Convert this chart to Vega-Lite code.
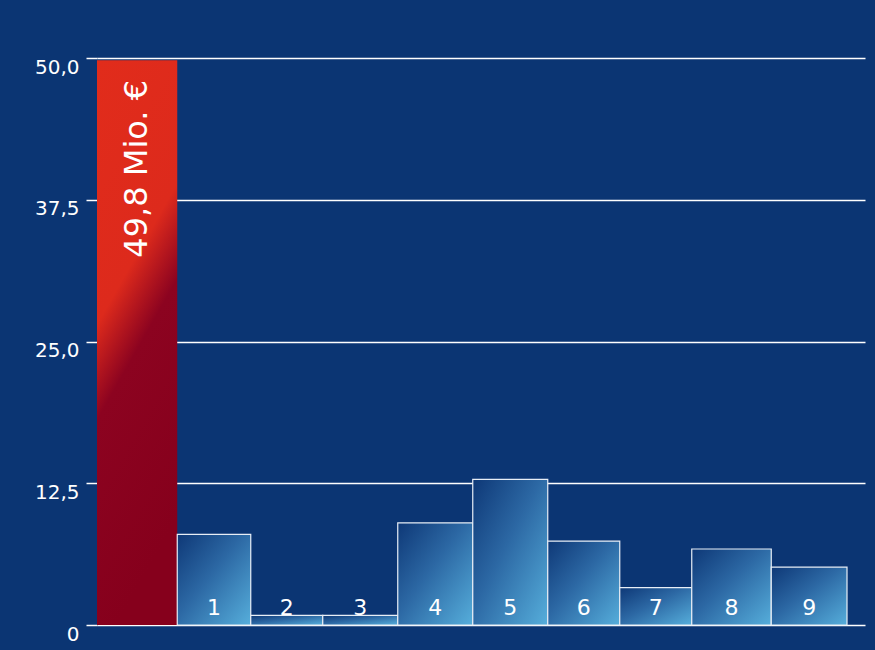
{
  "$schema": "https://vega.github.io/schema/vega-lite/v6.json",
  "width": 768,
  "height": 567,
  "autosize": {"type": "none"},
  "padding": {"left": 97, "top": 58, "right": 10, "bottom": 25},
  "background": "#0b3573",
  "config": {
    "view": {"stroke": null},
    "font": "DejaVu Sans",
    "axis": {"labelFont": "DejaVu Sans"}
  },
  "data": {
    "values": [
      {"name": "Gesamt", "label": "49,8 Mio. €", "value": 49.8, "type": "total", "x0": 0, "x1": 1.07, "mid": 0.535},
      {"name": "1", "label": "1", "value": 8.0, "type": "part", "x0": 1.07, "x1": 2.05, "mid": 1.56},
      {"name": "2", "label": "2", "value": 0.85, "type": "part", "x0": 2.05, "x1": 3.01, "mid": 2.53},
      {"name": "3", "label": "3", "value": 0.85, "type": "part", "x0": 3.01, "x1": 4.01, "mid": 3.51},
      {"name": "4", "label": "4", "value": 9.0, "type": "part", "x0": 4.01, "x1": 5.01, "mid": 4.51},
      {"name": "5", "label": "5", "value": 12.85, "type": "part", "x0": 5.01, "x1": 6.01, "mid": 5.51},
      {"name": "6", "label": "6", "value": 7.4, "type": "part", "x0": 6.01, "x1": 6.97, "mid": 6.49},
      {"name": "7", "label": "7", "value": 3.3, "type": "part", "x0": 6.97, "x1": 7.93, "mid": 7.45},
      {"name": "8", "label": "8", "value": 6.7, "type": "part", "x0": 7.93, "x1": 8.99, "mid": 8.46},
      {"name": "9", "label": "9", "value": 5.1, "type": "part", "x0": 8.99, "x1": 10, "mid": 9.495}
    ]
  },
  "layer": [
    {
      "transform": [{"filter": "datum.type == 'total'"}],
      "mark": {
        "type": "bar",
        "fill": {
          "gradient": "linear",
          "x1": 0, "y1": 0, "x2": 0.25, "y2": 1,
          "stops": [
            {"offset": 0, "color": "#e12c1b"},
            {"offset": 0.44, "color": "#dd2a1c"},
            {"offset": 0.6, "color": "#8c0320"},
            {"offset": 1, "color": "#86001c"}
          ]
        },
        "stroke": null
      },
      "encoding": {
        "x": {"field": "x0", "type": "quantitative", "scale": {"domain": [0, 10.24], "nice": false, "zero": false}, "axis": null},
        "x2": {"field": "x1"},
        "y": {
          "field": "value",
          "type": "quantitative",
          "scale": {"domain": [0, 50], "nice": false, "padding": 0},
          "axis": {
            "title": null,
            "values": [0, 12.5, 25, 37.5, 50],
            "labelExpr": "datum.value == 0 ? '0' : replace(format(datum.value, '.1f'), '.', ',')",
            "labelColor": "white",
            "labelFontSize": 20,
            "labelBaseline": "top",
            "labelOffset": -1,
            "labelPadding": 7,
            "tickColor": "white",
            "tickSize": 11,
            "tickWidth": 1.5,
            "domain": false,
            "grid": true,
            "gridColor": "white",
            "gridWidth": 1.5,
            "gridOpacity": 1
          }
        },
        "y2": {"datum": 0}
      }
    },
    {
      "transform": [{"filter": "datum.type == 'part'"}],
      "mark": {
        "type": "bar",
        "fill": {
          "gradient": "linear",
          "x1": 0, "y1": 0, "x2": 1, "y2": 1,
          "stops": [
            {"offset": 0, "color": "#0e3877"},
            {"offset": 0.45, "color": "#2c68a4"},
            {"offset": 1, "color": "#56aedb"}
          ]
        },
        "stroke": "#e8eef6",
        "strokeWidth": 1.2
      },
      "encoding": {
        "x": {"field": "x0", "type": "quantitative"},
        "x2": {"field": "x1"},
        "y": {"field": "value", "type": "quantitative"},
        "y2": {"datum": 0}
      }
    },
    {
      "transform": [{"filter": "datum.type == 'part'"}],
      "mark": {"type": "text", "color": "white", "fontSize": 22, "baseline": "alphabetic", "dy": -10, "align": "center"},
      "encoding": {
        "x": {"field": "mid", "type": "quantitative"},
        "y": {"datum": 0, "type": "quantitative"},
        "text": {"field": "label"}
      }
    },
    {
      "transform": [{"filter": "datum.type == 'total'"}],
      "mark": {"type": "text", "color": "white", "fontSize": 32, "angle": 270, "align": "right", "baseline": "middle", "dx": -22},
      "encoding": {
        "x": {"field": "mid", "type": "quantitative"},
        "y": {"datum": 50, "type": "quantitative"},
        "text": {"field": "label"}
      }
    }
  ]
}
